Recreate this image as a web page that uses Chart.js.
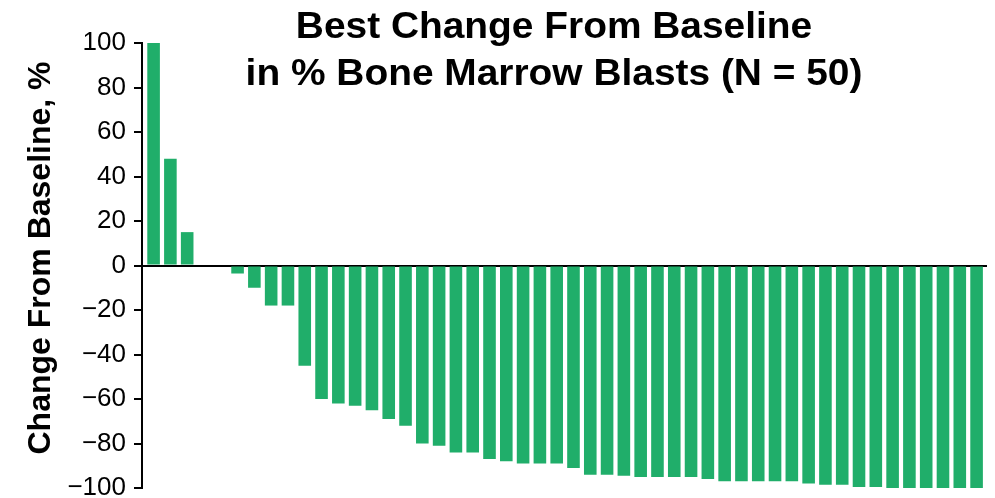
<!DOCTYPE html>
<html>
<head>
<meta charset="utf-8">
<script src="https://cdn.jsdelivr.net/npm/chart.js@4/dist/chart.umd.min.js"></script>
<style>
  html, body { margin: 0; padding: 0; background: #ffffff; }
  canvas { display: block; }
</style>
</head>
<body>
<canvas id="waterfall" width="995" height="498"></canvas>
<script>
// Best change from baseline in % bone marrow blasts, one bar per patient (sorted)
const patients = Array.from({ length: 50 }, (_, i) => i + 1);
const bestChange = [
  100, 48, 15, 0, 0, -3.6, -10, -18, -18, -45,
  -60, -62, -63, -65, -69, -72, -80, -81, -84, -84,
  -87, -88, -89, -89, -89, -91, -94, -94, -94.5, -95,
  -95, -95, -95, -96, -97, -97, -97, -97, -97, -98,
  -98.5, -98.5, -99.5, -99.5, -100, -100, -100, -100, -100, -100
];
const yTicks = [-100, -80, -60, -40, -20, 0, 20, 40, 60, 80, 100];
const yTickLabels = ['\u2212100', '\u221280', '\u221260', '\u221240', '\u221220', '0', '20', '40', '60', '80', '100'];
const titleLines = ['Best Change From Baseline', 'in % Bone Marrow Blasts (N = 50)'];
const yTitle = 'Change From Baseline, %';

const barColor = '#20AE6A';
const FONT = '"Liberation Sans", Arial, Helvetica, sans-serif';

// Headline and rotated axis caption drawn on top of the plot
const captions = {
  id: 'captions',
  afterDraw(chart) {
    const ctx = chart.ctx;
    ctx.save();
    ctx.fillStyle = '#000000';
    ctx.textAlign = 'center';
    ctx.textBaseline = 'alphabetic';
    ctx.font = 'bold 36px ' + FONT;
    [38, 85].forEach((y, i) => {
      ctx.save();
      ctx.translate(554, y);
      ctx.scale(1.08, 1);
      ctx.fillText(titleLines[i], 0, 0);
      ctx.restore();
    });

    ctx.translate(50, 258);
    ctx.rotate(-Math.PI / 2);
    ctx.font = 'bold 32px ' + FONT;
    ctx.fillText(yTitle, 0, 0);
    ctx.restore();
  }
};

new Chart(document.getElementById('waterfall'), {
  type: 'bar',
  data: {
    datasets: [{
      data: patients.map((p, i) => ({ x: p, y: bestChange[i] })),
      backgroundColor: barColor,
      borderWidth: 0,
      barPercentage: 0.75,
      categoryPercentage: 1.0
    }]
  },
  options: {
    responsive: false,
    animation: false,
    events: [],
    layout: { padding: { left: 0, right: 8, top: 43, bottom: 10 } },
    plugins: {
      legend: { display: false },
      title: { display: false },
      tooltip: { enabled: false }
    },
    scales: {
      x: {
        type: 'linear',
        display: false,
        offset: false,
        min: 0.31,
        max: 50.62
      },
      y: {
        min: -100,
        max: 100,
        z: 1,
        afterBuildTicks(scale) {
          scale.ticks = yTicks.map(v => ({ value: v }));
        },
        afterFit(scale) {
          scale.width = 142;
          scale.paddingTop = 0;
          scale.paddingBottom = 0;
        },
        border: { display: true, color: '#000000', width: 2 },
        grid: {
          drawOnChartArea: true,
          drawTicks: true,
          tickLength: 8,
          tickWidth: 2,
          tickColor: '#000000',
          lineWidth: 2,
          color: (c) => (c.tick && c.tick.value === 0 ? '#000000' : 'rgba(0,0,0,0)')
        },
        ticks: {
          color: '#000000',
          padding: 8,
          font: { family: FONT, size: 26, lineHeight: 1 },
          callback: (value) => yTickLabels[yTicks.indexOf(value)]
        }
      }
    }
  },
  plugins: [captions]
});
</script>
</body>
</html>
